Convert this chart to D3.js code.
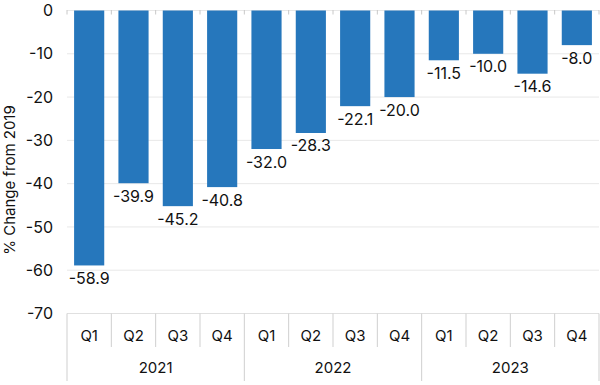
<!DOCTYPE html>
<html><head><meta charset="utf-8">
<script src="https://cdn.jsdelivr.net/npm/d3@7"></script>
<style>body{margin:0;background:#fff}svg{display:block}text{font-family:Inter,"Noto Sans",sans-serif;fill:#111}</style>
</head><body><svg id="c" width="600" height="385"></svg>
<script>
const quarters = ["Q1","Q2","Q3","Q4","Q1","Q2","Q3","Q4","Q1","Q2","Q3","Q4"];
const years = ["2021","2022","2023"];
const values = [-58.9,-39.9,-45.2,-40.8,-32.0,-28.3,-22.1,-20.0,-11.5,-10.0,-14.6,-8.0];
const yTicks = [0,-10,-20,-30,-40,-50,-60,-70];

const svg = d3.select("#c");
const L = 67, R = 599, T = 10.5, B = 313.5;
const idx = values.map((d,i)=>i);
const x = d3.scaleBand().domain(idx).range([L,R]).padding(0);
const y = d3.scaleLinear().domain([-70,0]).range([B,T]);
const bw = x.bandwidth()*0.68;

svg.append("g").selectAll("line").data(yTicks).join("line")
  .attr("x1",L).attr("x2",R).attr("y1",d=>y(d)).attr("y2",d=>y(d))
  .attr("stroke","#e8e8e8").attr("stroke-width",1);
svg.append("g").selectAll("text").data(yTicks).join("text")
  .attr("x",53).attr("y",d=>y(d)).attr("dy","0.35em").attr("text-anchor","end")
  .attr("font-size",16).text(d=>d);
svg.append("g").selectAll("line").data(d3.range(13)).join("line")
  .attr("x1",i=>L+i*x.step()).attr("x2",i=>L+i*x.step())
  .attr("y1",T-0.5).attr("y2",T+4).attr("stroke","#c8c8c8");
svg.append("g").selectAll("rect").data(idx).join("rect")
  .attr("x",i=>x(i)+(x.bandwidth()-bw)/2).attr("width",bw)
  .attr("y",y(0)).attr("height",i=>y(values[i])-y(0))
  .attr("fill","#2677bc");
svg.append("g").selectAll("text").data(idx).join("text")
  .attr("x",i=>x(i)+x.bandwidth()/2).attr("y",i=>y(values[i])+18.5)
  .attr("text-anchor","middle").attr("font-size",16)
  .text(i=>values[i].toFixed(1));
svg.append("line").attr("x1",L).attr("x2",R).attr("y1",B).attr("y2",B).attr("stroke","#e0e0e0");
svg.append("g").selectAll("line").data(d3.range(13)).join("line")
  .attr("x1",i=>L+i*x.step()).attr("x2",i=>L+i*x.step())
  .attr("y1",B).attr("y2",i=>i%4===0?381:347)
  .attr("stroke","#cfcfcf");
svg.append("g").selectAll("text").data(idx).join("text")
  .attr("x",i=>x(i)+x.bandwidth()/2).attr("y",336).attr("dy","0.35em")
  .attr("text-anchor","middle").attr("font-size",15).text(i=>quarters[i]);
svg.append("g").selectAll("text").data(years).join("text")
  .attr("x",(d,j)=>x(j*4)+x.step()*2).attr("y",368).attr("dy","0.35em")
  .attr("text-anchor","middle").attr("font-size",15).text(d=>d);
svg.append("text").attr("transform","translate(15,180) rotate(-90)")
  .attr("text-anchor","middle").attr("font-size",15).text("% Change from 2019");
</script></body></html>
